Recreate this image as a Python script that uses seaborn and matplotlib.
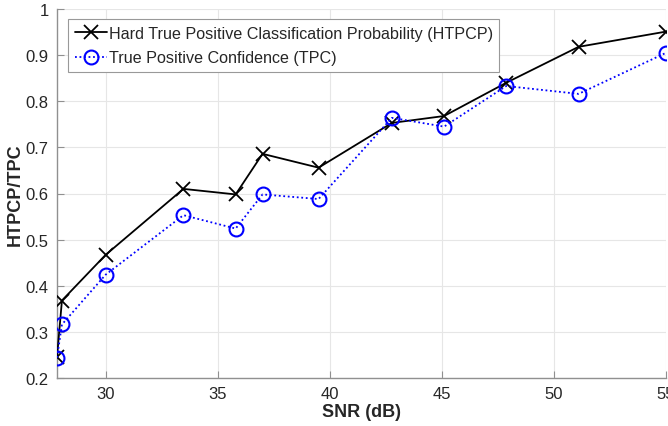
import matplotlib
matplotlib.use("Agg")
import matplotlib.pyplot as plt
import seaborn as sns
import numpy as np
import pandas as pd

snr = [27.83, 28.05, 30.0, 33.47, 35.8, 37.0, 39.5, 42.77, 45.1, 47.87, 51.1, 55.0]
htpcp = [0.245, 0.368, 0.467, 0.610, 0.598, 0.686, 0.656, 0.753, 0.768, 0.840, 0.918, 0.951]
tpc = [0.244, 0.316, 0.424, 0.553, 0.524, 0.598, 0.588, 0.764, 0.745, 0.833, 0.816, 0.905]
xticks = [30, 35, 40, 45, 50, 55]
yticks = [0.2, 0.3, 0.4, 0.5, 0.6, 0.7, 0.8, 0.9, 1.0]
ytick_labels = ["0.2", "0.3", "0.4", "0.5", "0.6", "0.7", "0.8", "0.9", "1"]
label1 = "Hard True Positive Classification Probability (HTPCP)"
label2 = "True Positive Confidence (TPC)"

sns.set_theme(style="white")
plt.rcParams['font.family'] = ['Liberation Sans', 'DejaVu Sans']

fig = plt.figure(figsize=(6.68, 4.27), dpi=100)
ax = fig.add_axes([57/668, 48/427, 609/668, 369/427])

df1 = pd.DataFrame({"x": snr, "y": htpcp})
df2 = pd.DataFrame({"x": snr, "y": tpc})
sns.lineplot(data=df1, x="x", y="y", ax=ax, color="black", lw=1.3, marker="x",
             markersize=10, markeredgewidth=1.3, markeredgecolor="black",
             label=label1, zorder=3)
sns.lineplot(data=df2, x="x", y="y", ax=ax, color="#0000ff", lw=1.3, linestyle=(0, (1, 1.5)),
             marker="o", markersize=10, markerfacecolor="none", markeredgecolor="#0000ff",
             markeredgewidth=1.5, label=label2, zorder=4)

ax.set_xlim(snr[0], 55)
ax.set_ylim(0.2, 1.0)
ax.set_xticks(xticks)
ax.set_yticks(yticks)
ax.set_yticklabels(ytick_labels)
ax.grid(True, color="#e6e6e6", lw=0.8)
ax.set_axisbelow(True)
for s in ["top", "right"]:
    ax.spines[s].set_visible(False)
for s in ["left", "bottom"]:
    ax.spines[s].set_color("#909090")
    ax.spines[s].set_linewidth(1.0)
ax.tick_params(direction="in", length=5, width=0.8, color="#909090",
               labelsize=12, labelcolor="#262626", bottom=True, left=True, pad=6)
ax.set_xlabel("SNR (dB)", fontsize=13, fontweight="bold", color="#262626", labelpad=1)
ax.set_ylabel("HTPCP/TPC", fontsize=13, fontweight="bold", color="#262626", labelpad=1)

leg = ax.legend(loc="upper left", bbox_to_anchor=(0.018, 0.973), fontsize=11.6,
                frameon=True, fancybox=False, edgecolor="#999999", framealpha=1,
                handlelength=2.0, handletextpad=0.1, borderpad=0.42, labelspacing=0.6,
                borderaxespad=0)
leg.get_frame().set_linewidth(0.8)
for t in leg.get_texts():
    t.set_color("#262626")

fig.savefig("out.png", dpi=100)
